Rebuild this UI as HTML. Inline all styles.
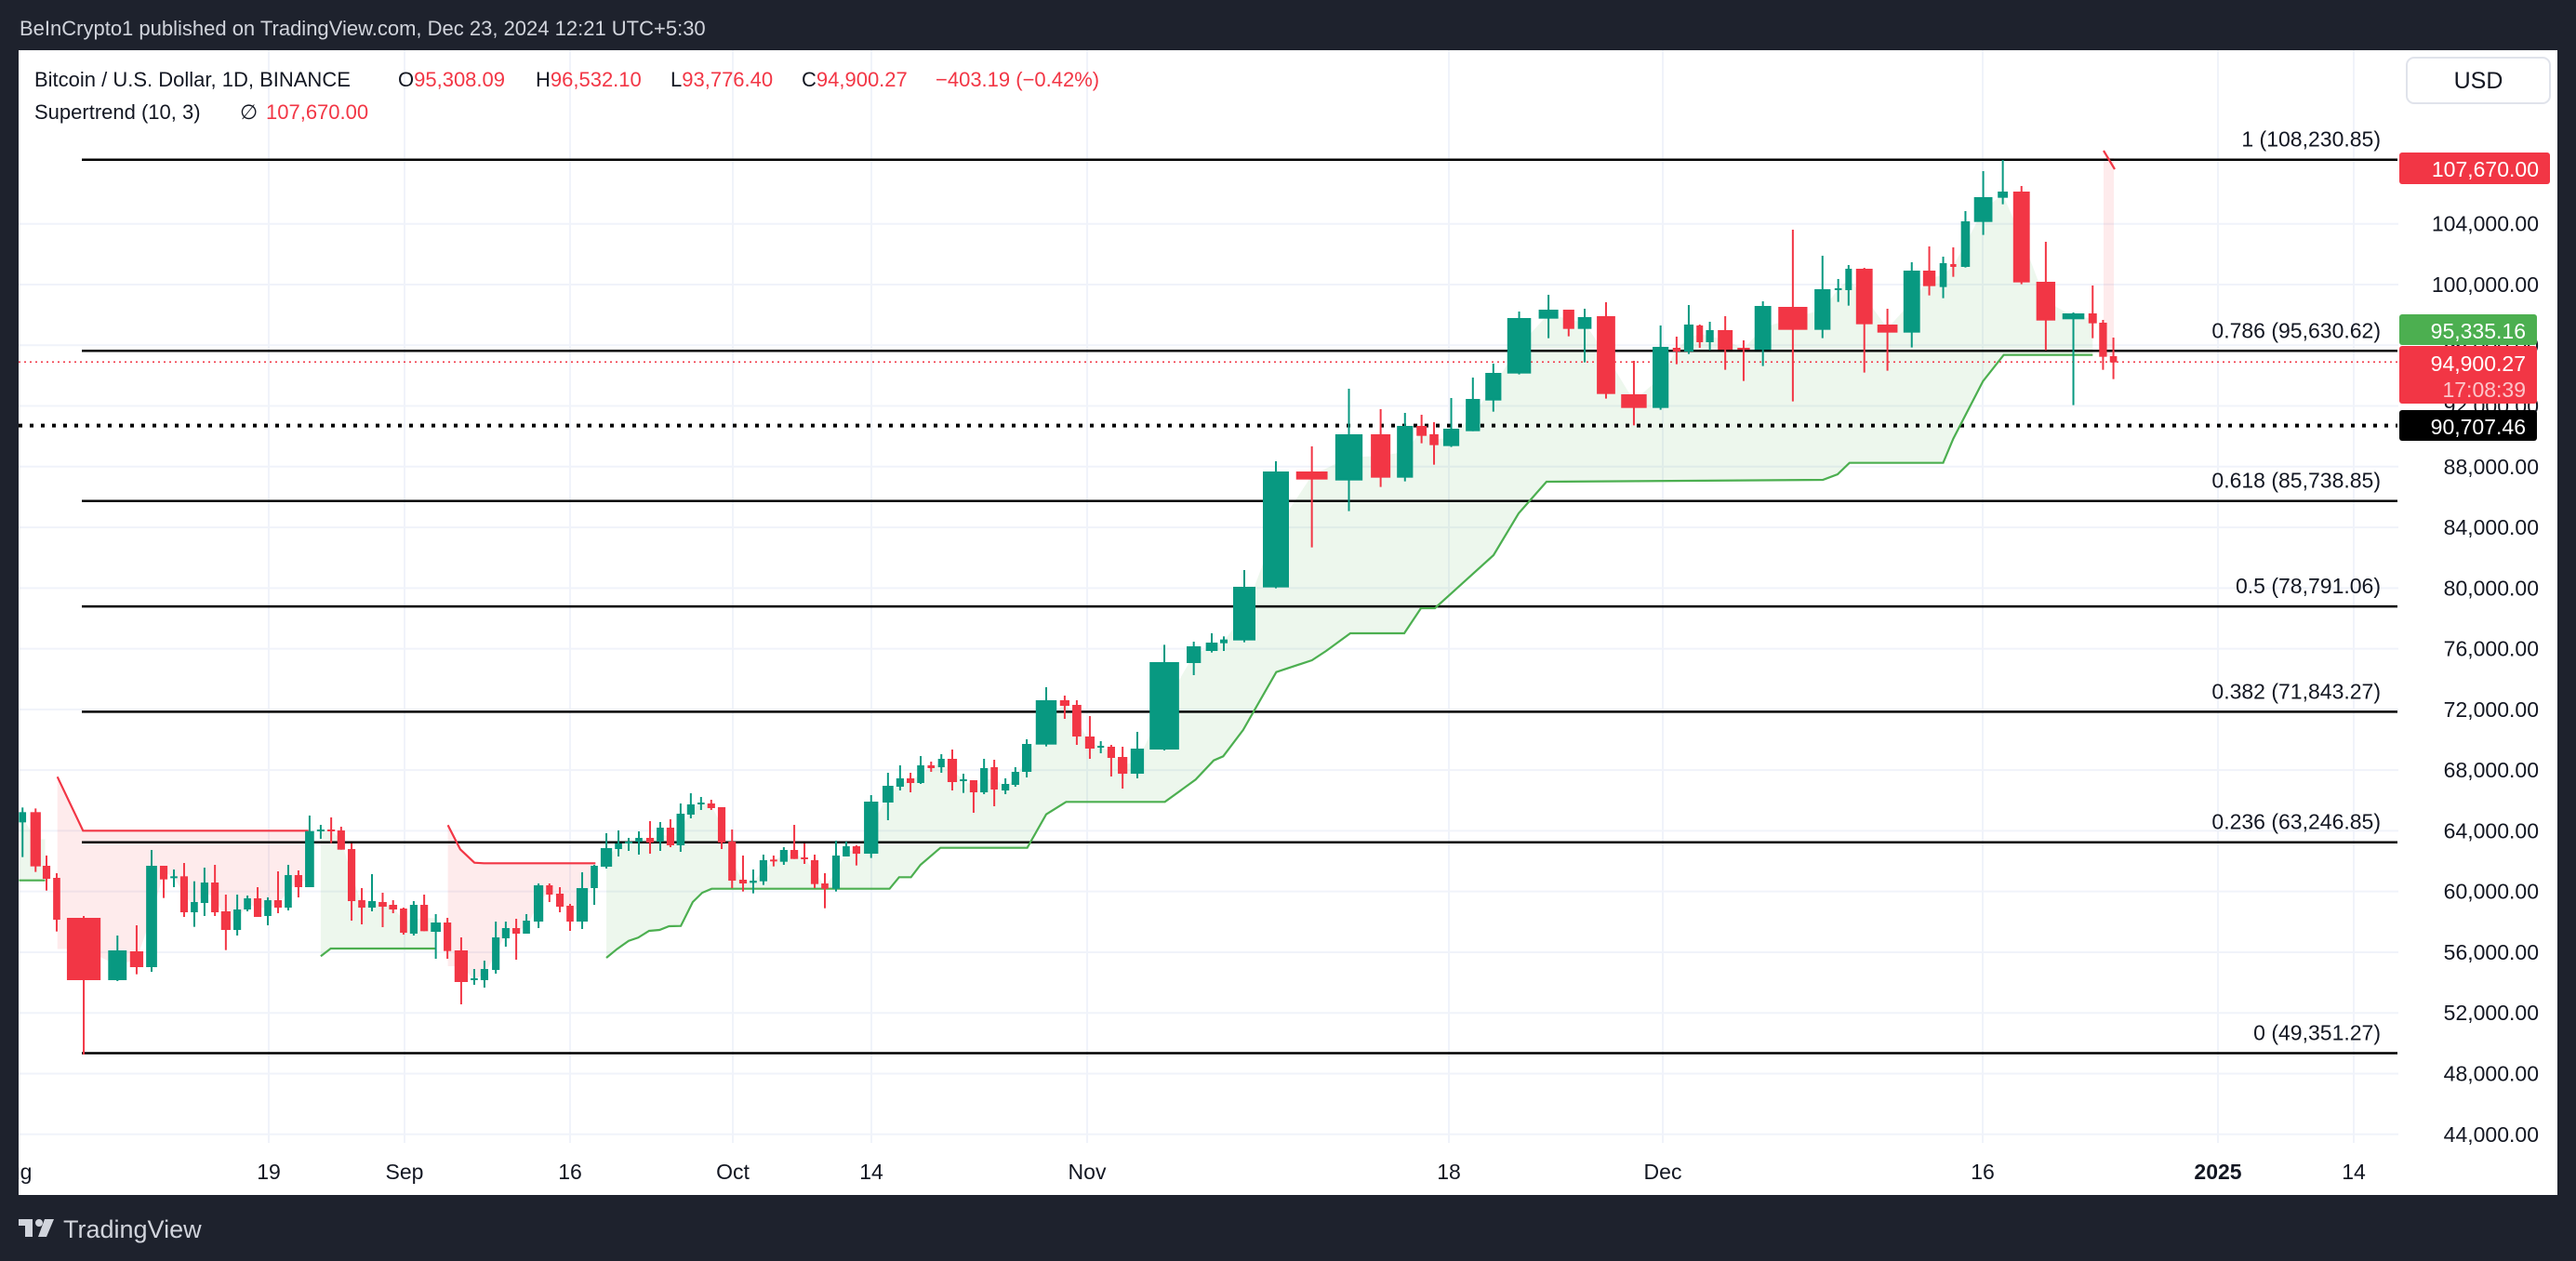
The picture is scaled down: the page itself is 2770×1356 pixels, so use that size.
<!DOCTYPE html>
<html><head><meta charset="utf-8"><style>
html,body{margin:0;padding:0;background:#1e222d;}
svg{display:block;font-family:"Liberation Sans",sans-serif;}
</style></head><body>
<svg id="s" xmlns="http://www.w3.org/2000/svg" width="2770" height="1356" viewBox="0 0 2770 1356">
<rect x="0" y="0" width="2770" height="1356" fill="#1e222d"/>
<rect x="20" y="54" width="2730" height="1231" fill="#ffffff"/>
<g id="grid"></g>
<g id="fill"></g>
<g id="fib"></g>
<g id="st"></g>
<g id="cd"></g>
<g id="ax"></g>
<rect x="0" y="54" width="20" height="1232" fill="#1e222d"/>
<text x="21" y="38" font-size="22" fill="#d1d4dc">BeInCrypto1 published on TradingView.com, Dec 23, 2024 12:21 UTC+5:30</text>
<text y="93" font-size="22" fill="#131722"><tspan x="37">Bitcoin / U.S. Dollar, 1D, BINANCE</tspan><tspan x="428">O</tspan><tspan fill="#f23645">95,308.09</tspan><tspan x="576">H</tspan><tspan fill="#f23645">96,532.10</tspan><tspan x="721">L</tspan><tspan fill="#f23645">93,776.40</tspan><tspan x="862">C</tspan><tspan fill="#f23645">94,900.27</tspan><tspan x="1006" fill="#f23645">−403.19 (−0.42%)</tspan></text>
<text y="128" font-size="22" fill="#131722"><tspan x="37">Supertrend (10, 3)</tspan><tspan x="258">∅</tspan><tspan x="286" fill="#f23645">107,670.00</tspan></text>
<rect x="2588" y="62" width="154" height="49" rx="8" fill="#fff" stroke="#e0e3eb" stroke-width="2"/>
<text x="2665" y="95" font-size="25" fill="#131722" text-anchor="middle">USD</text>
<g fill="#d1d4dc"><rect x="20" y="1311" width="15" height="7"/><rect x="27" y="1311" width="8" height="19"/><circle cx="42" cy="1315" r="4"/><polygon points="48,1311 58,1311 50,1330 41,1330"/></g>
<text x="68" y="1331" font-size="27" fill="#d1d4dc">TradingView</text>
<script>
(function(){
var NS="http://www.w3.org/2000/svg";
function el(p,t,a,txt){var e=document.createElementNS(NS,t);for(var k in a)e.setAttribute(k,a[k]);if(txt!=null)e.textContent=txt;document.getElementById(p).appendChild(e);return e;}
function Y(p){return 171.7+(108230.85-p)*0.016317;}
var vx=[289,435,613,788,937,1169,1558,1788,2132,2385,2531];
vx.forEach(function(x){el("grid","line",{x1:x,y1:54,x2:x,y2:1229,stroke:"#f0f3fa","stroke-width":2});});
for(var p=44000;p<=104000;p+=4000){el("grid","line",{x1:20,y1:Y(p),x2:2579,y2:Y(p),stroke:"#f0f3fa","stroke-width":2});}
var fib=[["1 (108,230.85)",108230.85],["0.786 (95,630.62)",95630.62],["0.618 (85,738.85)",85738.85],["0.5 (78,791.06)",78791.06],["0.382 (71,843.27)",71843.27],["0.236 (63,246.85)",63246.85],["0 (49,351.27)",49351.27]];
fib.forEach(function(f){var y=Y(f[1]);el("fib","line",{x1:88,y1:y,x2:2578,y2:y,stroke:"#000","stroke-width":2.5});el("fib","text",{x:2560,y:y-14,"font-size":23,fill:"#131722","text-anchor":"end"},f[0]);});
el("fib","line",{x1:20,y1:Y(90707.46),x2:2578,y2:Y(90707.46),stroke:"#000","stroke-width":4,"stroke-dasharray":"4 8"});
el("fib","line",{x1:20,y1:Y(94900.27),x2:2578,y2:Y(94900.27),stroke:"#f23645","stroke-width":1.5,"stroke-dasharray":"2 4"});
var C=[];
function add(list,xo,xs,yo,ys){list.forEach(function(c){C.push([xo+c[0]/xs,xo+c[1]/xs,yo+c[2]/ys,yo+c[3]/ys,yo+c[4]/ys,yo+c[5]/ys,c[6]]);});}
var z3=[[40,55,280,313,265,425,1],[64,86,280,455,268,473,0],[90,106,453,495,420,533,0],[112,127,492,627,477,665,0],[141,212,621,822,615,1062,0],[228,267,726,822,678,825,1],[274,302,729,780,645,803,0],[308,331,453,780,402,795,1],[337,353,453,497,453,557,0],[359,374,487,491,465,522,1],[380,396,487,603,444,618,0],[402,417,570,603,503,650,1],[423,439,507,573,459,615,1],[445,461,507,603,450,615,0],[466,486,600,660,546,725,0],[492,508,594,660,546,678,1],[514,529,558,594,549,600,1],[535,551,558,618,522,618,0],[557,572,564,615,555,645,1],[578,594,564,588,471,606,0],[600,615,483,588,450,597,1],[621,637,483,522,468,555,0],[643,662,341,522,291,522,1],[668,684,336,340,321,366,1],[690,706,336,341,297,380,0],[711,727,339,401,327,401,0],[733,749,399,567,381,630,0],[755,770,564,588,525,642,0],[776,792,567,588,480,600,1],[798,815,570,585,540,651,0],[820,837,579,594,564,606,0],[843,858,591,669,588,675,0],[864,880,579,672,567,678,1],[886,902,579,664,546,664,0],[908,929,636,666,609,753,1],[935,951,636,728,621,753,0],[958,986,726,828,684,900,0],[992,1007,816,822,786,837,1],[1013,1029,786,822,759,846,1],[1037,1053,684,789,633,801,1],[1058,1074,654,687,633,714,1],[1080,1096,654,672,624,756,0],[1102,1117,630,672,609,672,1],[1125,1145,516,633,510,654,1],[1151,1165,516,546,510,570,0],[1172,1188,543,585,522,603,0],[1194,1209,582,633,576,663,0],[1215,1239,525,633,474,657,1],[1245,1260,453,525,450,579,1],[1266,1290,396,456,348,462,1],[1296,1311,381,399,339,423,1],[1317,1333,375,381,363,405,1],[1339,1354,363,375,342,417,1],[1362,1378,363,378,309,414,0],[1384,1399,330,375,312,405,1],[1405,1421,330,387,303,393,0],[1426,1443,285,387,252,408,1],[1448,1464,255,288,219,300,1],[1470,1485,249,253,231,273,1],[1491,1507,252,267,240,273,0],[1513,1529,264,378,264,399,0],[1535,1551,375,501,336,525,0]];
add(z3,0,1.96,780,3);
var z4=[[88,104,738,750,660,776,0],[110,125,741,748,705,782,1],[131,147,675,743,657,755,1],[153,168,673,677,660,695,0],[174,190,642,680,633,690,1],[196,212,642,671,561,671,0],[218,233,666,670,621,687,0],[239,255,675,752,657,765,0],[261,276,750,767,717,830,0],[284,300,660,767,612,776,1],[306,321,630,663,615,663,1],[327,343,630,654,627,692,0],[351,381,486,654,465,668,1],[390,413,435,489,393,546,1],[419,435,411,438,369,450,1],[441,457,411,426,393,456,0],[463,478,369,426,339,429,1],[485,500,369,378,357,390,0],[507,521,348,375,333,393,1],[527,547,348,423,318,450,0],[553,568,414,418,396,458,1],[574,590,417,456,417,522,0],[596,612,378,456,348,462,1],[618,633,375,447,351,501,0],[641,657,429,450,411,462,1],[662,678,390,432,375,438,1],[684,704,300,390,285,408,1],[713,757,159,302,117,308,1],[764,784,159,177,144,219,0],[790,809,174,276,159,303,0],[817,837,276,315,210,348,0],[843,857,306,310,291,330,1],[864,880,309,345,303,405,0],[886,906,342,396,309,444,0],[913,941,315,396,261,411,1],[953,1015,36,318,-20,321,1],[1031,1061,-15,39,-30,78,1]];
add(z4,750,1.96,700,3);
var z6=[[140,178,873,900,843,905,1],[186,210,863,875,853,900,1],[228,300,693,866,639,872,1],[324,408,321,695,288,698,1]];
add(z6,1250,3,400,3);
var z5=[[147,200,1071,1097,990,1316,0],[213,259,951,1100,804,1199,1],[273,306,951,1091,870,1121,0],[317,344,924,1091,882,1103,1],[350,367,924,956,888,980,0],[372,387,951,986,912,1049,0],[395,422,933,989,834,992,1],[433,457,837,941,768,941,1],[466,493,753,842,723,878,1],[503,543,576,755,555,758,1],[556,589,549,578,501,641,1],[597,616,549,611,549,635,0],[622,645,573,611,546,719,1],[654,685,570,821,525,836,0],[695,738,822,866,714,922,0],[748,775,669,866,600,872,1],[782,795,672,684,636,725,0],[801,817,597,684,534,692,1],[822,833,600,654,597,672,0],[838,851,615,654,588,680,1],[858,883,615,678,570,743,0],[891,912,672,678,648,779,0],[920,948,537,678,522,731,1],[960,1009,540,614,291,845,0],[1021,1048,483,614,375,641,1],[1055,1067,480,486,450,524,1],[1073,1084,417,486,405,536,1],[1091,1119,417,596,414,752,0],[1127,1161,597,623,546,746,0],[1171,1199,423,623,396,671,1],[1204,1225,423,473,345,503,0],[1232,1244,399,476,378,512,1],[1250,1260,402,411,348,443,0],[1268,1283,264,411,231,413,1],[1290,1321,186,266,102,308,1],[1330,1347,168,188,66,209,1],[1356,1384,168,461,150,467,0],[1395,1427,459,584,330,680,0],[1439,1476,561,580,558,857,1],[1483,1497,561,593,471,641,0],[1501,1514,591,701,582,743,0],[1519,1531,699,719,639,773,0]];
add(z5,1300,1.568,150,3);
function conv(pts,xo,xs,yo,ys){return pts.map(function(p){return [xo+p[0]/xs,yo+p[1]/ys];});}
var red1=conv([[121,166],[175,340],[650,340]],0,1.96,780,3);
var g1=conv([[40,500],[95,500]],0,1.96,780,3);
var g2=conv([[676,745],[697,720],[918,720]],0,1.96,780,3);
var red2=conv([[944,322],[970,400],[1000,443],[1020,445],[1255,445]],0,1.96,780,3);
var g3=conv([[1278,750],[1300,722],[1325,695],[1345,685],[1368,663],[1390,660],[1410,648],[1435,647],[1460,570],[1480,540],[1500,527],[1568,527]],0,1.96,780,3)
 .concat(conv([[30,767],[405,767],[425,730],[450,730],[470,690],[512,635],[695,635],[735,527],[777,487],[985,487],[1050,415],[1088,353],[1108,340],[1150,255],[1220,68],[1295,30],[1325,0]],750,1.96,700,3))
 .concat([[1452,681],[1510,681],[1528,654],[1543,654],[1606,597],[1633,552],[1663,518]])
 .concat(conv([[1035,1098],[1060,1080],[1080,1043],[1238,1043],[1255,965],[1305,780],[1340,695],[1490,695]],1300,1.568,150,3));
function fillSeg(line,col){var x0=line[0][0],x1=line[line.length-1][0];var mids=C.filter(function(c){var m=(c[0]+c[1])/2;return m>=x0&&m<=x1;}).map(function(c){return [(c[0]+c[1])/2,(c[2]+c[3])/2];});mids.sort(function(a,b){return b[0]-a[0];});
 var pts=line.concat([[x1,mids.length?mids[0][1]:line[line.length-1][1]]]).concat(mids).concat([[x0,mids.length?mids[mids.length-1][1]:line[0][1]]]);
 el("fill","polygon",{points:pts.map(function(p){return p[0].toFixed(1)+","+p[1].toFixed(1);}).join(" "),fill:col});}
var RF="rgba(242,54,69,0.1)",GF="rgba(76,175,80,0.1)";
fillSeg(red1,RF);fillSeg(red2,RF);fillSeg(g1,GF);fillSeg(g2,GF);fillSeg(g3,GF);
el("fill","rect",{x:2262,y:170,width:11,height:213,fill:RF});
function line(pts,col){el("st","polyline",{points:pts.map(function(p){return p[0].toFixed(1)+","+p[1].toFixed(1);}).join(" "),fill:"none",stroke:col,"stroke-width":2.2});}
line(red1,"#f23645");line(red2,"#f23645");line(g1,"#4caf50");line(g2,"#4caf50");line(g3,"#4caf50");
line([[2262,162],[2274,182]],"#f23645");
C.forEach(function(c){var col=c[6]?"#089981":"#f23645";var cx=(c[0]+c[1])/2;
 el("cd","line",{x1:cx,y1:c[4],x2:cx,y2:c[5],stroke:col,"stroke-width":2});
 var h=Math.max(2,c[3]-c[2]);el("cd","rect",{x:c[0],y:c[2],width:Math.max(2,c[1]-c[0]),height:h,fill:col});});
for(var p=44000;p<=104000;p+=4000){var s=String(p).replace(/(\d)(?=(\d{3})+$)/g,"$1,")+".00";el("ax","text",{x:2730,y:Y(p)+8,"font-size":23,fill:"#131722","text-anchor":"end"},s);}
function tg(y0,y1,w,col,t1,t2){el("ax","rect",{x:2580,y:y0,width:w,height:y1-y0,rx:3,fill:col});
 var xe=2580+w-12;
 el("ax","text",{x:xe,y:y0+(t2?27:26),"font-size":23,fill:"#fff","text-anchor":"end"},t1);
 if(t2)el("ax","text",{x:xe,y:y0+55,"font-size":23,fill:"#fcc5ca","text-anchor":"end"},t2);}
tg(164,198,162,"#f23645","107,670.00");
tg(338,371,148,"#4caf50","95,335.16");
tg(372,434,148,"#f23645","94,900.27","17:08:39");
tg(441,474,148,"#000","90,707.46");
var tl=[[14,"Aug"],[289,"19"],[435,"Sep"],[613,"16"],[788,"Oct"],[937,"14"],[1169,"Nov"],[1558,"18"],[1788,"Dec"],[2132,"16"],[2385,"2025"],[2531,"14"]];
tl.forEach(function(t){var a={x:t[0],y:1268,"font-size":23,fill:"#131722","text-anchor":"middle"};if(t[1]==="2025")a["font-weight"]="bold";el("ax","text",a,t[1]);});
})();
</script>
</svg>
</body></html>
